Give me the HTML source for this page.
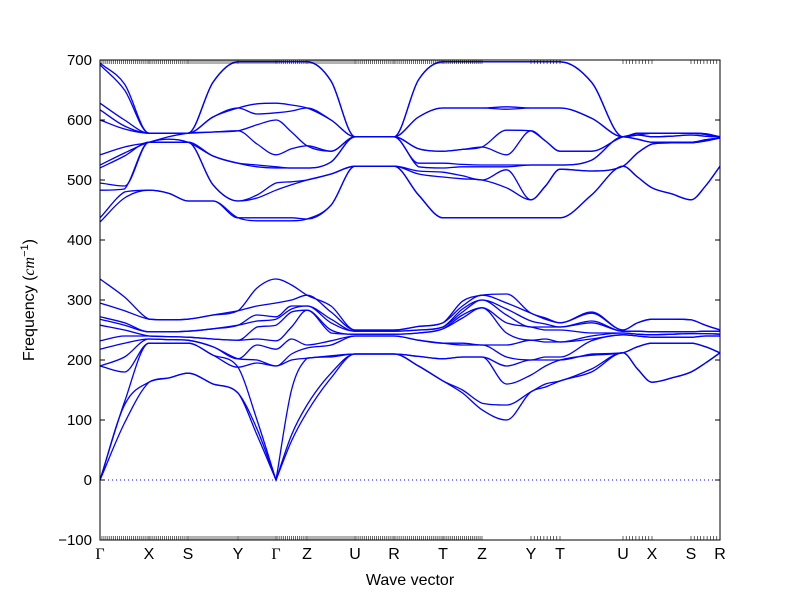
<!DOCTYPE html>
<html><head><meta charset="utf-8"><style>
body{margin:0;background:#fff;}
svg{display:block;font-family:"Liberation Sans","DejaVu Sans",sans-serif;}
</style></head><body>
<svg id="chart" width="800" height="600" viewBox="0 0 800 600" xmlns="http://www.w3.org/2000/svg">
<rect x="0" y="0" width="800" height="600" fill="#fff"/>
<g id="bands"></g>
<g id="axes"></g>
<rect x="100" y="60" width="620" height="480" fill="none" stroke="#000" stroke-width="1"/>
<text x="410" y="585" font-size="16" text-anchor="middle">Wave vector</text>
<text transform="translate(34,300) rotate(-90)" font-size="16" text-anchor="middle">Frequency (<tspan font-style="italic" font-family="Liberation Serif, serif">cm</tspan><tspan font-size="11" dy="-6">−1</tspan><tspan dy="6">)</tspan></text>
</svg>
<script>
const kLabels=["Γ","X","S","Y","Γ","Z","U","R","T","Z","Y","T","U","X","S","R"];
const kNodes=[0,0.49,0.88,1.38,1.76,2.07,2.55,2.94,3.43,3.82,4.31,4.60,5.23,5.52,5.91,6.20];
const yTicks=[-100,0,100,200,300,400,500,600,700];
const highCols=[
[430,437,483,495,520,525,542,600,617,628,692,695],
[470,480,485,490,540,545,555,585,590,600,650,660],
[483,483,563,563,563,563,563,578,578,578,578,578],
[478,478,563,563,563,568,572,578,578,578,578,578],
[465,465,563,563,563,563,578,578,578,578,578,578],
[465,465,492,492,540,540,580,580,605,605,663,663],
[437,437,465,465,528,528,582,582,620,620,697,697],
[432,437,470,475,522,525,560,592,610,627,697,697],
[432,437,483,495,520,522,542,600,612,628,697,697],
[432,437,492,497,520,520,552,580,615,625,697,697],
[435,435,500,500,520,520,557,557,620,620,697,697],
[458,458,510,510,530,530,548,548,600,600,665,665],
[523,523,523,523,572,572,572,572,572,572,572,572],
[523,523,523,523,572,572,572,572,572,572,572,572],
[523,523,523,523,572,572,572,572,572,572,572,572],
[475,475,510,515,522,528,552,552,605,605,667,667],
[437,437,505,513,520,528,548,548,620,620,697,697],
[437,437,502,507,522,526,551,551,620,620,697,697],
[437,437,500,500,522,525,555,555,620,620,697,697],
[437,437,487,517,522,525,542,583,618,622,697,697],
[437,437,467,467,525,525,582,582,620,620,697,697],
[437,437,490,490,525,525,565,565,620,620,697,697],
[437,437,518,518,525,525,548,548,620,620,697,697],
[475,475,515,515,533,533,548,548,603,603,663,663],
[523,523,523,523,572,572,572,572,572,572,572,572],
[505,505,545,545,568,568,575,575,575,575,578,578],
[487,487,560,560,563,563,572,572,578,578,578,578],
[477,477,562,562,563,563,573,573,578,578,578,578],
[467,467,562,562,563,563,575,575,578,578,578,578],
[490,490,565,565,567,567,573,573,576,576,577,577],
[523,523,570,570,570,570,572,572,572,572,572,572]];
const lowCols=[
[0,0,0,190,190,218,232,258,268,272,295,335],
[95,125,130,180,205,228,240,250,258,262,282,305],
[163,163,228,228,235,235,240,240,247,247,268,268],
[170,170,228,228,234,234,239,239,247,247,267,267],
[178,178,228,228,233,233,238,238,248,248,268,268],
[160,160,208,208,222,222,235,235,252,252,275,275],
[145,145,188,188,202,202,233,233,258,258,282,282],
[75,85,100,195,200,225,235,255,265,275,290,320],
[0,0,0,190,190,218,232,258,268,272,295,335],
[65,75,150,200,210,235,255,280,285,290,300,325],
[113,125,203,203,220,225,283,283,290,290,308,308],
[170,178,205,207,225,232,245,250,262,268,280,290],
[210,210,210,210,240,240,243,243,248,248,250,250],
[210,210,210,210,240,240,243,243,248,248,250,250],
[210,210,210,210,240,240,243,243,248,248,250,250],
[190,190,206,206,233,233,245,245,250,250,256,256],
[165,165,202,202,228,228,252,252,255,255,262,262],
[145,150,205,205,225,228,270,275,280,285,290,298],
[117,128,205,205,225,225,287,287,300,300,308,308],
[100,125,160,190,205,225,245,262,275,285,295,310],
[147,147,175,200,200,233,233,255,255,265,278,278],
[155,160,190,200,205,230,235,250,255,260,268,270],
[165,165,200,200,205,230,230,250,255,255,262,262],
[180,185,208,210,232,235,240,245,262,265,278,280],
[212,212,212,212,242,242,245,245,248,248,250,250],
[185,185,222,222,240,240,243,243,248,248,262,262],
[163,163,228,228,238,238,242,242,247,247,268,268],
[170,170,228,228,238,238,243,243,247,247,268,268],
[180,180,228,228,238,238,244,244,247,247,267,267],
[195,195,222,222,240,240,244,244,248,248,258,258],
[212,212,212,212,240,240,243,243,248,248,250,250]];

const NS="http://www.w3.org/2000/svg";
const X0=100,X1=720,Y0=540,Y1=60,FMIN=-100,FMAX=700;
const kMax=kNodes[kNodes.length-1];
function xs(k){return X0+(k/kMax)*(X1-X0);}
function ys(f){return Y0-(f-FMIN)/(FMAX-FMIN)*(Y0-Y1);}
const grid=[];
for(let i=0;i<kNodes.length;i++){grid.push(kNodes[i]);if(i<kNodes.length-1)grid.push((kNodes[i]+kNodes[i+1])/2);}
function mk(tag,attrs){const e=document.createElementNS(NS,tag);for(const a in attrs)e.setAttribute(a,attrs[a]);return e;}
function smoothPath(px,py,vals){
  const n=px.length,d=[],mL=new Array(n),mR=new Array(n);
  for(let i=0;i<n-1;i++)d.push((py[i+1]-py[i])/(px[i+1]-px[i]));
  mR[0]=d[0];mL[0]=d[0];mL[n-1]=d[n-2];mR[n-1]=d[n-2];
  for(let i=1;i<n-1;i++){
    if(vals[i]===0){mL[i]=d[i-1];mR[i]=d[i];}
    else{const m=(d[i-1]*d[i]<=0)?0:(d[i-1]+d[i])/2;mL[i]=m;mR[i]=m;}
  }
  for(let i=0;i<n-1;i++){if(d[i]===0){mR[i]=0;mL[i+1]=0;continue;}
    if(vals[i]===0||vals[i+1]===0)continue;
    const a=mR[i]/d[i],b=mL[i+1]/d[i],s=a*a+b*b;if(s>9){const t=3/Math.sqrt(s);mR[i]=t*a*d[i];mL[i+1]=t*b*d[i];}}
  let s="M"+px[0].toFixed(2)+","+py[0].toFixed(2);
  for(let i=0;i<n-1;i++){const h=px[i+1]-px[i];
    s+=" C"+(px[i]+h/3).toFixed(2)+","+(py[i]+mR[i]*h/3).toFixed(2)+" "+(px[i+1]-h/3).toFixed(2)+","+(py[i+1]-mL[i+1]*h/3).toFixed(2)+" "+px[i+1].toFixed(2)+","+py[i+1].toFixed(2);}
  return s;
}
const bg=document.getElementById("bands");
function drawGroup(cols,prefix){
  const nb=cols[0].length;
  for(let b=0;b<nb;b++){
    const vals=cols.map(c=>c[b]);
    const px=grid.map(k=>xs(k)),py=vals.map(v=>ys(v));
    const p=mk("path",{d:smoothPath(px,py,vals),fill:"none",stroke:"#0000ff","stroke-width":"1.3"});
    
    
    bg.appendChild(p);
  }
}
drawGroup(highCols,"optical-high");
drawGroup(lowCols,"optical-low");
const ax=document.getElementById("axes");
const zl=mk("line",{x1:X0,x2:X1,y1:ys(0),y2:ys(0),stroke:"#0000ff","stroke-width":"1","stroke-dasharray":"1,3"});


ax.appendChild(zl);
yTicks.forEach(v=>{
  const y=ys(v);
  const t1=mk("line",{x1:X0,x2:X0+5,y1:y,y2:y,stroke:"#000"});
  
  
  ax.appendChild(t1);
  const t2=mk("line",{x1:X1-5,x2:X1,y1:y,y2:y,stroke:"#000"});
  
  
  ax.appendChild(t2);
  const tx=mk("text",{x:X0-8,y:y+5,"font-size":"15","text-anchor":"end"});
  tx.textContent=(v<0?"−"+(-v):v);
  
  
  ax.appendChild(tx);
});
for(let i=0;i<kNodes.length-1;i++){
  const a=xs(kNodes[i]),b=xs(kNodes[i+1]);
  const dense=i<9,step=dense?2:3.2;
  const n=Math.max(1,Math.round((b-a)/step));
  if(!dense&&![10,12,14].includes(i))continue;
  for(let j=0;j<=n;j++){const x=a+(b-a)*j/n;
    [[Y0,Y0-4],[Y1,Y1+4]].forEach(pr=>{
      const t=mk("line",{x1:x,x2:x,y1:pr[0],y2:pr[1],stroke:"#000","stroke-width":"0.6"});
      
      
      ax.appendChild(t);
    });
  }
}
kLabels.forEach((l,i)=>{
  const t=mk("text",{x:xs(kNodes[i]),y:559,"font-size":"16","text-anchor":"middle"});
  if(l==="Γ")t.setAttribute("font-family","Liberation Serif, serif");
  t.textContent=l;
  
  
  ax.appendChild(t);
});
</script>
</body></html>
